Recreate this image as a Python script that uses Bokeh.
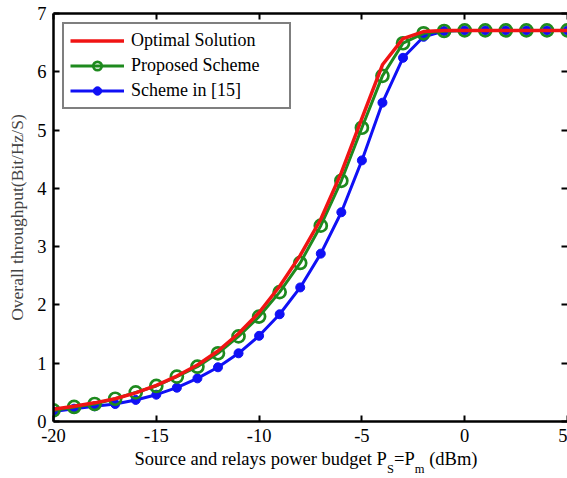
from bokeh.plotting import figure
from bokeh.layouts import column
from bokeh.models import (LinearAxis, Legend, LegendItem, FixedTicker, Range1d,
                          CustomJSTickFormatter)
from bokeh.core.properties import value
from bokeh.embed import file_html
from bokeh.resources import INLINE

# ---- data ----
power_dbm = [-20, -19, -18, -17, -16, -15, -14, -13, -12, -11, -10, -9, -8,
             -7, -6, -5, -4, -3, -2, -1, 0, 1, 2, 3, 4, 5]
optimal = [0.21, 0.26, 0.32, 0.39, 0.49, 0.62, 0.78, 0.97, 1.21, 1.51, 1.87, 2.32, 2.85,
           3.47, 4.27, 5.20, 6.12, 6.57, 6.69, 6.71, 6.71, 6.71, 6.71, 6.71, 6.71, 6.71]
proposed = [0.19, 0.25, 0.30, 0.39, 0.50, 0.61, 0.77, 0.94, 1.17, 1.46, 1.80, 2.22, 2.72,
            3.36, 4.13, 5.04, 5.93, 6.49, 6.66, 6.70, 6.71, 6.71, 6.71, 6.71, 6.71, 6.71]
scheme15 = [0.17, 0.22, 0.26, 0.30, 0.37, 0.46, 0.58, 0.74, 0.93, 1.17, 1.47, 1.84, 2.30,
            2.88, 3.59, 4.48, 5.47, 6.24, 6.60, 6.70, 6.71, 6.71, 6.71, 6.71, 6.71, 6.71]
x_ticks = [-20, -15, -10, -5, 0, 5]
x_tick_labels = ["-20", "-15", "-10", "-5", "0", "5"]
y_ticks = [0, 1, 2, 3, 4, 5, 6, 7]
series_labels = ["Optimal Solution", "Proposed Scheme", "Scheme in [15]"]
y_label = "Overall throughput(Bit/Hz/S)"
# x-axis title pieces
x_title_main = ["Source and relays power budget P", "=P", "(dBm)"]
x_title_subs = ["S", "m"]

RED = "#f01414"
GREEN = "#1e8a1e"
BLUE = "#1010f5"
FONT = "Liberation Serif"

W = 567
TOP_H = 446
BOT_H = 32

p = figure(width=W, height=TOP_H, x_range=Range1d(-20, 5), y_range=Range1d(0, 7),
           output_backend="svg", toolbar_location=None,
           min_border_left=53, min_border_right=0, min_border_top=13, min_border_bottom=25)
p.outline_line_color = None
p.grid.visible = False
p.background_fill_color = "white"
p.border_fill_color = "white"


def style_axis(ax, show_labels=True, show_line=True):
    ax.major_tick_in = 6
    ax.major_tick_out = 0
    ax.minor_tick_in = 0
    ax.minor_tick_out = 0
    ax.major_tick_line_width = 2
    ax.major_tick_line_color = "black"
    ax.axis_line_width = 2.5
    ax.axis_line_color = "black" if show_line else None
    if show_labels:
        ax.major_label_text_font = FONT
        ax.major_label_text_font_size = "18.5px"
        ax.major_label_text_color = "black"
        ax.major_label_standoff = 7
    else:
        ax.formatter = CustomJSTickFormatter(code="return ''")
        ax.major_label_text_font_size = "0px"
        ax.major_label_standoff = 0


p.xaxis.ticker = FixedTicker(ticks=x_ticks)
p.xaxis.major_label_overrides = dict(zip(x_ticks, x_tick_labels))
p.yaxis.ticker = FixedTicker(ticks=y_ticks)
style_axis(p.xaxis[0])
style_axis(p.yaxis[0])
p.yaxis.axis_label = y_label
p.yaxis.axis_label_text_font = FONT
p.yaxis.axis_label_text_font_size = "17.5px"
p.yaxis.axis_label_text_font_style = "normal"
p.yaxis.axis_label_standoff = 7

top_axis = LinearAxis(ticker=FixedTicker(ticks=x_ticks))
style_axis(top_axis, show_labels=False)
p.add_layout(top_axis, "above")
right_axis = LinearAxis(ticker=FixedTicker(ticks=y_ticks))
style_axis(right_axis, show_labels=False, show_line=False)
p.add_layout(right_axis, "right")

# ---- series ----
b_line = p.line(power_dbm, scheme15, line_color=BLUE, line_width=3)
b_pts = p.scatter(power_dbm, scheme15, marker="circle", size=9,
                  fill_color=BLUE, line_color=BLUE)
g_line = p.line(power_dbm, proposed, line_color=GREEN, line_width=3)
g_pts = p.scatter(power_dbm, proposed, marker="circle", size=12,
                  fill_color=None, line_color=GREEN, line_width=2.7)
r_line = p.line(power_dbm, optimal, line_color=RED, line_width=3.5)

legend = Legend(items=[
    LegendItem(label=series_labels[0], renderers=[r_line]),
    LegendItem(label=series_labels[1], renderers=[g_line, g_pts]),
    LegendItem(label=series_labels[2], renderers=[b_line, b_pts]),
], location="top_left")
legend.margin = 9
legend.padding = 6
legend.spacing = 4
legend.glyph_width = 54
legend.glyph_height = 21
legend.label_height = 21
legend.label_width = 152
legend.label_standoff = 7
legend.label_text_font = FONT
legend.label_text_font_size = "18px"
legend.label_text_color = "black"
legend.border_line_color = "black"
legend.border_line_width = 2
legend.background_fill_color = "white"
legend.background_fill_alpha = 1
p.add_layout(legend)

# ---- strip below for the x-axis title (with subscripts) ----
p2 = figure(width=W, height=BOT_H, x_range=p.x_range, y_range=Range1d(0, BOT_H),
            output_backend="svg", toolbar_location=None,
            min_border_left=53, min_border_right=0, min_border_top=0, min_border_bottom=0)
p2.axis.visible = False
p2.grid.visible = False
p2.outline_line_color = None
p2.background_fill_color = "white"
p2.border_fill_color = "white"

p2.text(x=[-16.06, -3.44, -1.73], y=[20, 20, 20], text=x_title_main,
        text_font=value(FONT), text_font_size=value("18.5px"), text_color="black",
        text_align="left", text_baseline="middle")
p2.text(x=[-3.78, -2.43], y=[10, 10], text=x_title_subs,
        text_font=value(FONT), text_font_size=value("12.5px"), text_color="black",
        text_align="left", text_baseline="middle")

layout = column(p, p2, spacing=0)
open("out.html", "w").write(file_html(layout, INLINE))
